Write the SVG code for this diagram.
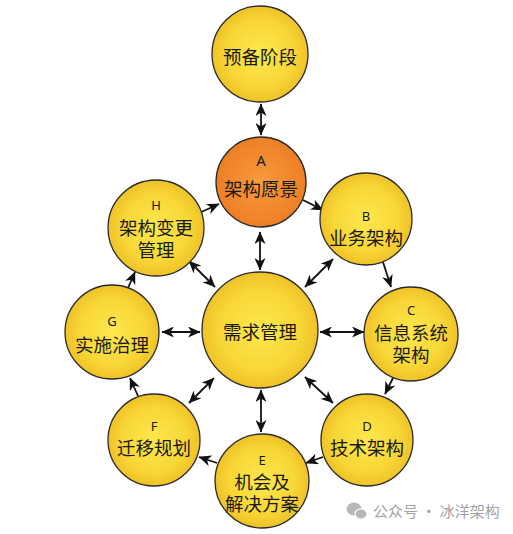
<svg xmlns="http://www.w3.org/2000/svg" width="513" height="534" viewBox="0 0 513 534">
  <defs>
    <radialGradient id="gy" cx="0.5" cy="0.5" r="0.5">
      <stop offset="0" stop-color="#fde84e"/>
      <stop offset="0.7" stop-color="#f8d636"/>
      <stop offset="1" stop-color="#efc228"/>
    </radialGradient>
    <radialGradient id="go" cx="0.5" cy="0.5" r="0.5">
      <stop offset="0" stop-color="#f89a3e"/>
      <stop offset="1" stop-color="#ed7f24"/>
    </radialGradient>
    <marker id="ah" markerUnits="userSpaceOnUse" markerWidth="13" markerHeight="11" refX="12" refY="5.5" orient="auto-start-reverse" viewBox="0 0 13 11">
      <path d="M0,0 L12.5,5.5 L0,11 L3.5,5.5 z" fill="#111"/>
    </marker>
  </defs>
  <style>
    .n { fill: url(#gy); stroke: #2b2b2b; stroke-width: 1.3; }
    .o { fill: url(#go); stroke: #2b2b2b; stroke-width: 1.3; }
    .t { font-family: "Noto Sans CJK SC", "Noto Sans", sans-serif; font-size: 18.5px; fill: #1a1a1a; text-anchor: middle; }
    .l { font-family: "Noto Sans", "Liberation Sans", sans-serif; font-size: 13px; fill: #1a1a1a; text-anchor: middle; }
    .c line { stroke: #111; stroke-width: 1.8; }
    .s { marker-end: url(#ah); }
    .d { marker-start: url(#ah); marker-end: url(#ah); }
    .w { font-family: "Noto Sans CJK SC", "Noto Sans", sans-serif; font-size: 15px; fill: #a3a3a3; }
  </style>
  <rect width="513" height="534" fill="#ffffff"/>

  <g id="connectors" class="c">
    <line class="d" x1="261" y1="104" x2="261" y2="135"/>
    <line class="s" x1="199" y1="213" x2="219" y2="204"/>
    <line class="s" x1="303" y1="200" x2="323" y2="210"/>
    <line class="s" x1="383" y1="262" x2="391" y2="287"/>
    <line class="s" x1="393" y1="378" x2="385" y2="394"/>
    <line class="s" x1="323" y1="457" x2="306" y2="463"/>
    <line class="s" x1="217" y1="463" x2="199" y2="457"/>
    <line class="s" x1="138" y1="396" x2="130" y2="378"/>
    <line class="s" x1="128" y1="288" x2="135" y2="272"/>
    <line class="d" x1="260" y1="232" x2="260" y2="270"/>
    <line class="d" x1="305" y1="287" x2="333" y2="259"/>
    <line class="d" x1="215" y1="287" x2="189" y2="261"/>
    <line class="d" x1="162" y1="332" x2="200" y2="332"/>
    <line class="d" x1="320" y1="332" x2="364" y2="332"/>
    <line class="d" x1="214" y1="378" x2="189" y2="403"/>
    <line class="d" x1="305" y1="377" x2="333" y2="403"/>
    <line class="d" x1="261" y1="390" x2="261" y2="432"/>
  </g>

  <g id="prep">
    <circle class="n" cx="260" cy="54" r="48"/>
    <text class="t" x="260" y="64">预备阶段</text>
  </g>
  <g id="A">
    <circle class="o" cx="261" cy="182" r="45"/>
    <text class="l" x="261" y="166" style="font-size:15px">A</text>
    <text class="t" x="261" y="196">架构愿景</text>
  </g>
  <g id="H">
    <circle class="n" cx="156" cy="228" r="48"/>
    <text class="l" x="156" y="210">H</text>
    <text class="t" x="156" y="235">架构变更<tspan x="156" dy="22">管理</tspan></text>
  </g>
  <g id="B">
    <circle class="n" cx="366" cy="219" r="46"/>
    <text class="l" x="366" y="221">B</text>
    <text class="t" x="366" y="245">业务架构</text>
  </g>
  <g id="G">
    <circle class="n" cx="112" cy="332" r="47"/>
    <text class="l" x="112" y="326">G</text>
    <text class="t" x="112" y="352">实施治理</text>
  </g>
  <g id="M">
    <circle class="n" cx="260" cy="330" r="58"/>
    <text class="t" x="260" y="339">需求管理</text>
  </g>
  <g id="C">
    <circle class="n" cx="411" cy="334" r="47"/>
    <text class="l" x="411" y="315">C</text>
    <text class="t" x="411" y="340">信息系统<tspan x="411" dy="22">架构</tspan></text>
  </g>
  <g id="F">
    <circle class="n" cx="154" cy="440" r="46"/>
    <text class="l" x="154" y="431">F</text>
    <text class="t" x="154" y="455">迁移规划</text>
  </g>
  <g id="D">
    <circle class="n" cx="367" cy="440" r="46"/>
    <text class="l" x="367" y="431">D</text>
    <text class="t" x="367" y="455">技术架构</text>
  </g>
  <g id="E">
    <circle class="n" cx="262" cy="481" r="47"/>
    <text class="l" x="262" y="465">E</text>
    <text class="t" x="262" y="489">机会及<tspan x="262" dy="22">解决方案</tspan></text>
  </g>

  <g id="watermark">
    <ellipse cx="354" cy="509" rx="7.5" ry="6.5" fill="#b8b8b8"/>
    <ellipse cx="361" cy="514" rx="6" ry="5.2" fill="#b8b8b8" stroke="#ffffff" stroke-width="1.2"/>
    <text class="w" x="373" y="517">公众号 · 冰洋架构</text>
  </g>
</svg>
